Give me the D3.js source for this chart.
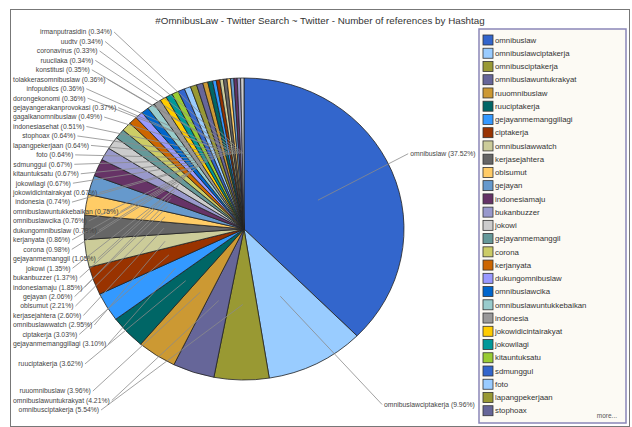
<!DOCTYPE html>
<html>
<head>
<meta charset="utf-8">
<script src="https://cdn.jsdelivr.net/npm/d3@7"></script>
<style>
  body { margin: 0; background: #fff; }
  text { font-family: "Liberation Sans", Arial, sans-serif; }
</style>
</head>
<body>
<div id="chart"></div>
<script>
// hashtags in slice order (clockwise from 12 o'clock)
const hashtags = [
  "omnibuslaw", "omnibuslawciptakerja", "omnibusciptakerja", "omnibuslawuntukrakyat",
  "ruuomnibuslaw", "ruuciptakerja", "gejayanmemanggillagi", "ciptakerja",
  "omnibuslawwatch", "kerjasejahtera", "oblsumut", "gejayan", "indonesiamaju",
  "bukanbuzzer", "jokowi", "gejayanmemanggil", "corona", "kerjanyata",
  "dukungomnibuslaw", "omnibuslawcika", "omnibuslawuntukkebaikan", "indonesia",
  "jokowidicintairakyat", "jokowilagi", "kitauntuksatu", "sdmunggul", "foto",
  "lapangpekerjaan", "stophoax", "indonesiasehat", "gagalkanomnibuslaw",
  "gejayangerakanprovokasi", "dorongekonomi", "infopublics", "tolakkerasomnibuslaw",
  "konstitusi", "ruucilaka", "coronavirus", "uudtv", "irmanputrasidin"
]
const shares = [
  37.52, 9.96, 5.54, 4.21, 3.96, 3.62, 3.10, 3.03, 2.95, 2.60, 2.21, 2.06, 1.85,
  1.37, 1.35, 1.05, 0.98, 0.86, 0.79, 0.76, 0.75, 0.74, 0.67, 0.67, 0.67, 0.67,
  0.64, 0.64, 0.64, 0.51, 0.49, 0.37, 0.36, 0.36, 0.36, 0.35, 0.34, 0.33, 0.34, 0.34
]
// colour cycle of the original tool
const palette = [
  "#3366CC", "#99CCFF", "#999933", "#666699", "#CC9933", "#006666", "#3399FF",
  "#993300", "#CCCC99", "#666666", "#FFCC66", "#6699CC", "#663366", "#9999CC",
  "#CCCCCC", "#669999", "#CCCC66", "#CC6600", "#9999FF", "#0066CC", "#99CCCC",
  "#999999", "#FFCC00", "#009999", "#99CC33"
]
const legendCount = 29
const chartTitle = "#OmnibusLaw - Twitter Search ~ Twitter - Number of references by Hashtag"

const width = 632, height = 427
const cx = 244, cy = 229, ry = 151, rx = 160
const labelR = 197, gap = 9.45, minY = 32, maxY = 410

const data = hashtags.map((h, i) => ({ tag: h, share: shares[i], color: palette[i % palette.length] }))

const svg = d3.select('#chart').append('svg')
  .attr('width', width).attr('height', height)

// outer frame
svg.append('rect')
  .attr('x', 10.5).attr('y', 9.5).attr('width', 619).attr('height', 417)
  .attr('fill', 'none').attr('stroke', '#777').attr('stroke-width', 1)

svg.append('text')
  .attr('x', 320).attr('y', 24)
  .attr('text-anchor', 'middle')
  .attr('font-size', 9.8)
  .attr('fill', '#333')
  .text(chartTitle)

const pie = d3.pie().sort(null).value(d => d.share)
const arcs = pie(data)
const arc = d3.arc().innerRadius(0).outerRadius(ry)

const pieGroup = svg.append('g')
  .attr('transform', `translate(${cx},${cy}) scale(${rx / ry},1)`)

pieGroup.selectAll('path')
  .data(arcs)
  .join('path')
  .attr('d', arc)
  .attr('fill', d => d.data.color)
  .attr('stroke', '#222')
  .attr('stroke-width', 0.8)
  .attr('vector-effect', 'non-scaling-stroke')

// label layout
arcs.forEach(a => {
  a.mid = (a.startAngle + a.endAngle) / 2
  a.ly = cy - labelR * Math.cos(a.mid)
  const c = arc.centroid(a)
  a.ax = cx + c[0] * rx / ry
  a.ay = cy + c[1]
  a.right = a.mid < Math.PI
})

function spread (list) {
  list.sort((a, b) => a.ly - b.ly)
  list.forEach((d, i) => {
    if (i == 0) d.ly = Math.max(d.ly, minY)
    else d.ly = Math.max(d.ly, list[i - 1].ly + gap)
  })
  for (let i = list.length - 1; i >= 0; i--) {
    if (i == list.length - 1) list[i].ly = Math.min(list[i].ly, maxY)
    else list[i].ly = Math.min(list[i].ly, list[i + 1].ly - gap)
  }
  list.forEach((d, i) => {
    if (i == 0) d.ly = Math.max(d.ly, minY)
    else d.ly = Math.max(d.ly, list[i - 1].ly + gap)
  })
}
const leftLabels = arcs.filter(a => !a.right)
const rightLabels = arcs.filter(a => a.right)
spread(leftLabels)
spread(rightLabels)

const lineG = svg.append('g')
const labelG = svg.append('g')
  .attr('font-size', 6.8)
  .attr('fill', '#444')

leftLabels.forEach(a => {
  const dy = (a.ly - cy) / 200
  let xEnd = cx - 123 - 51.5 * Math.sqrt(Math.max(0, 1 - dy * dy))
  const t = labelG.append('text')
    .attr('y', a.ly).attr('dy', '0.35em')
    .text(`${a.data.tag} (${a.data.share.toFixed(2)}%)`)
  const w = t.node().getComputedTextLength()
  if (xEnd - w < 13) xEnd = 13 + w
  t.attr('x', xEnd - w)
  lineG.append('line')
    .attr('x1', xEnd + 2).attr('y1', a.ly)
    .attr('x2', a.ax).attr('y2', a.ay)
    .attr('stroke', '#8a8a8a').attr('stroke-width', 0.8)
})

rightLabels.forEach(a => {
  const dy = (a.ly - cy) / 200
  const xStart = cx + 112 + 58.5 * Math.sqrt(Math.max(0, 1 - dy * dy))
  labelG.append('text')
    .attr('x', xStart).attr('y', a.ly).attr('dy', '0.35em')
    .text(`${a.data.tag} (${a.data.share.toFixed(2)}%)`)
  lineG.append('line')
    .attr('x1', xStart - 2).attr('y1', a.ly)
    .attr('x2', a.ax).attr('y2', a.ay)
    .attr('stroke', '#8a8a8a').attr('stroke-width', 0.8)
})

// legend
const legend = svg.append('g').attr('transform', 'translate(479, 29)')
legend.append('rect')
  .attr('width', 147).attr('height', 394)
  .attr('fill', '#fcfaf4')
  .attr('stroke', '#8a86b8').attr('stroke-width', 1.5)

const rows = legend.selectAll('g.row')
  .data(data.slice(0, legendCount))
  .join('g')
  .attr('class', 'row')
  .attr('transform', (d, i) => `translate(4, ${6 + i * 13.24})`)

rows.append('rect')
  .attr('width', 10).attr('height', 10)
  .attr('fill', d => d.color)
  .attr('stroke', '#333').attr('stroke-width', 0.8)

rows.append('text')
  .attr('x', 12).attr('y', 5).attr('dy', '0.35em')
  .attr('font-size', 7.8).attr('fill', '#333')
  .text(d => d.tag)

legend.append('text')
  .attr('x', 138).attr('y', 389)
  .attr('text-anchor', 'end')
  .attr('font-size', 6.5).attr('fill', '#555')
  .text('more...')
</script>
</body>
</html>
